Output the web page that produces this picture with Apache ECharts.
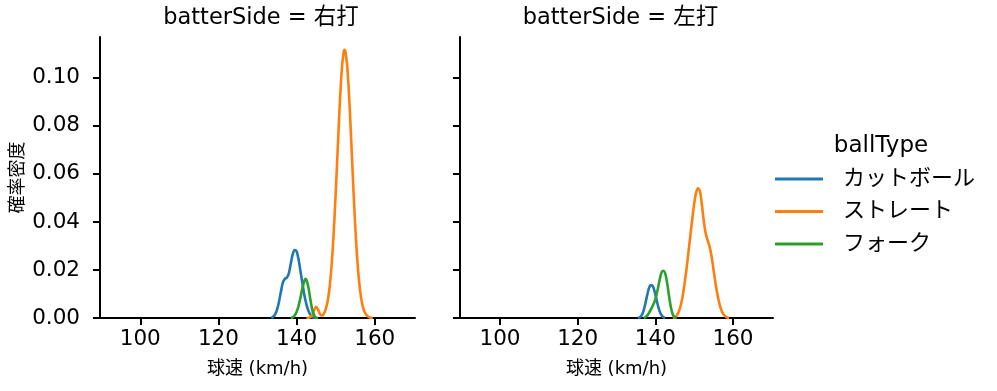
<!DOCTYPE html>
<html><head><meta charset="utf-8">
<script src="https://cdn.jsdelivr.net/npm/echarts@6/dist/echarts.min.js"></script>
<style>html,body{margin:0;padding:0;background:#fff}#c{width:997px;height:391px}</style>
</head><body><div id="c"></div>
<script>
const panels = ['batterSide = 右打', 'batterSide = 左打'];
const ballTypes = ['カットボール', 'ストレート', 'フォーク'];
const colors = ['#1f77b4', '#ff7f0e', '#2ca02c'];
const xTicks = [100, 120, 140, 160];
const yTicks = [0, 0.02, 0.04, 0.06, 0.08, 0.10];

// 右打
const rCut = [[133.5,0],[134,0.0005],[134.5,0.0015],[135,0.0035],[135.5,0.0068],[136,0.011],[136.5,0.0148],[137,0.0163],[137.5,0.0168],[138,0.0185],[138.5,0.0225],[139,0.0265],[139.5,0.0283],[140,0.0278],[140.5,0.0245],[141,0.0195],[141.5,0.0143],[142,0.0095],[142.5,0.0058],[143,0.0031],[143.5,0.0014],[144,0.0005],[144.5,0.0001],[145,0]];
const rStr = [[142.5,0],[143,0.0001],[143.5,0.0003],[144,0.0013],[144.5,0.0033],[145,0.0047],[145.5,0.0035],[146,0.0016],[146.5,0.0010],[147,0.0018],[147.5,0.0039],[148,0.0075],[148.5,0.0135],[149,0.0228],[149.5,0.0355],[150,0.0516],[150.5,0.0696],[151,0.0873],[151.5,0.1018],[152,0.1103],[152.3,0.1117],[152.5,0.111],[153,0.104],[153.5,0.0905],[154,0.0733],[154.5,0.0551],[155,0.0385],[155.5,0.025],[156,0.0151],[156.5,0.0085],[157,0.0044],[157.5,0.0022],[158,0.001],[158.5,0.0004],[159,0.0001],[159.5,0]];
const rFork = [[138.5,0],[139,0.0003],[139.5,0.001],[140,0.0025],[140.5,0.005],[141,0.0085],[141.5,0.0125],[142,0.0155],[142.3,0.0163],[142.5,0.016],[143,0.013],[143.5,0.008],[144,0.0035],[144.5,0.0011],[145,0.0002],[145.5,0]];
// 左打
const lCut = [[135.5,0],[136,0.0003],[136.5,0.0012],[137,0.0032],[137.5,0.0065],[138,0.0102],[138.5,0.013],[139,0.0137],[139.5,0.0127],[140,0.0098],[140.5,0.0063],[141,0.0033],[141.5,0.0014],[142,0.0004],[142.5,0]];
const lStr = [[144.5,0],[145,0.0002],[145.5,0.001],[146,0.0025],[146.5,0.005],[147,0.0088],[147.5,0.014],[148,0.02],[148.5,0.027],[149,0.034],[149.5,0.041],[150,0.0475],[150.5,0.0522],[151,0.054],[151.5,0.0528],[152,0.047],[152.5,0.04],[153,0.035],[153.5,0.0322],[154,0.0295],[154.5,0.0255],[155,0.02],[155.5,0.0145],[156,0.0098],[156.5,0.006],[157,0.0033],[157.5,0.0016],[158,0.0007],[158.5,0.0002],[159,0]];
const lFork = [[137,0],[137.5,0.0004],[138,0.0012],[138.5,0.0025],[139,0.004],[139.5,0.0057],[140,0.0078],[140.5,0.011],[141,0.015],[141.5,0.0185],[142,0.0197],[142.5,0.0188],[143,0.015],[143.5,0.0095],[144,0.0045],[144.5,0.0014],[145,0.0003],[145.5,0]];

const panelData = [[rCut, rStr, rFork], [lCut, lStr, lFork]];
const FONT = '"DejaVu Sans", "Noto Sans CJK JP", sans-serif';

const grids = [
  {left: 100, top: 37, width: 315, height: 281},
  {left: 460, top: 37, width: 313, height: 281}
];
const axisLine = {show: true, lineStyle: {color: '#000', width: 2}};
const axisTick = {show: true, inside: false, length: 7, lineStyle: {color: '#000', width: 2}};
const xAxes = grids.map((g, i) => ({
  type: 'value', gridIndex: i, min: 89.7, max: 170.3,
  axisLine, axisTick: Object.assign({customValues: xTicks}, axisTick),
  axisLabel: {customValues: xTicks, margin: 11, fontSize: 21.5, color: '#000', fontFamily: FONT},
  splitLine: {show: false},
  name: '球速 (km/h)', nameLocation: 'middle', nameGap: 42,
  nameTextStyle: {fontSize: 18, color: '#000', fontFamily: FONT}
}));
const yAxes = grids.map((g, i) => ({
  type: 'value', gridIndex: i, min: 0, max: 0.117,
  axisLine, axisTick: Object.assign({customValues: yTicks}, axisTick),
  axisLabel: {show: i === 0, customValues: yTicks, margin: 20, fontSize: 21.5, color: '#000', fontFamily: FONT,
    formatter: v => v.toFixed(2)},
  splitLine: {show: false},
  name: i === 0 ? '確率密度' : '', nameLocation: 'middle', nameGap: 73, nameRotate: 90,
  nameTextStyle: {fontSize: 18, color: '#000', fontFamily: FONT}
}));
const series = [];
panelData.forEach((arrs, p) => {
  arrs.forEach((d, k) => {
    series.push({
      type: 'line', name: ballTypes[k], xAxisIndex: p, yAxisIndex: p,
      data: d, smooth: 0.3, showSymbol: false, symbol: 'none',
      lineStyle: {color: colors[k], width: 2.6}, itemStyle: {color: colors[k]},
      animation: false
    });
  });
});
const chart = echarts.init(document.getElementById('c'));
chart.setOption({
  backgroundColor: '#fff',
  animation: false,
  title: [
    {text: panels[0], left: 256, top: 2, textAlign: 'center', textStyle: {fontSize: 22.5, fontWeight: 'normal', color: '#000', fontFamily: FONT}},
    {text: panels[1], left: 615.5, top: 2, textAlign: 'center', textStyle: {fontSize: 22.5, fontWeight: 'normal', color: '#000', fontFamily: FONT}},
    {text: 'ballType', left: 876, top: 130, textAlign: 'center', textStyle: {fontSize: 23, fontWeight: 'normal', color: '#000', fontFamily: FONT}}
  ],
  legend: {
    orient: 'vertical', left: 775, top: 168, padding: 0, itemWidth: 48, itemHeight: 3, itemGap: 10.5,
    icon: 'rect', data: ballTypes,
    textStyle: {fontSize: 22, color: '#000', fontFamily: FONT, padding: [0, 0, 0, 15], lineHeight: 22}
  },
  grid: grids,
  xAxis: xAxes,
  yAxis: yAxes,
  series
});
</script></body></html>
